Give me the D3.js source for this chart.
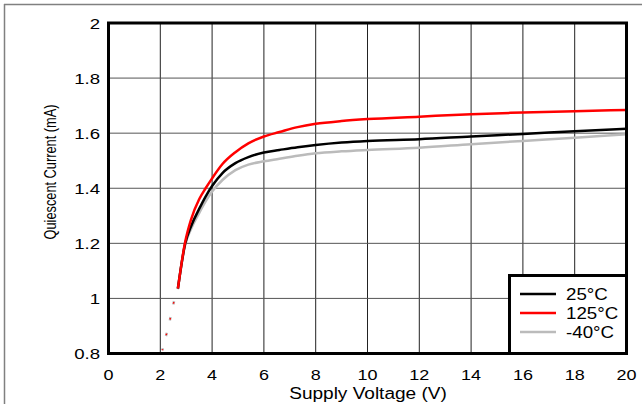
<!DOCTYPE html>
<html>
<head>
<meta charset="utf-8">
<script src="https://cdn.jsdelivr.net/npm/d3@7"></script>
<style>
  body { margin: 0; background: #fff; }
  svg { display: block; font-family: "Liberation Sans", Arial, sans-serif; }
</style>
</head>
<body>
<svg id="chart" width="642" height="404"></svg>
<script>
// x ticks / y ticks
var xTicks = [0, 2, 4, 6, 8, 10, 12, 14, 16, 18, 20];
var yTicks = [0.8, 1, 1.2, 1.4, 1.6, 1.8, 2];

// solid part of the curves
var voltage = [2.68, 2.95, 3.2, 3.5, 3.75, 4, 4.4, 4.9, 5.4, 6, 6.6, 7.3, 8, 9, 10, 12, 14, 16, 18, 20];
var current25 = [1.036, 1.195, 1.265, 1.325, 1.37, 1.408, 1.455, 1.491, 1.513, 1.53, 1.539, 1.549, 1.557, 1.566, 1.572, 1.578, 1.588, 1.597, 1.607, 1.616];
var current125 = [1.036, 1.2, 1.29, 1.36, 1.40, 1.436, 1.488, 1.531, 1.563, 1.588, 1.604, 1.622, 1.634, 1.644, 1.651, 1.66, 1.669, 1.675, 1.68, 1.684];
var currentM40 = [1.036, 1.19, 1.255, 1.31, 1.352, 1.388, 1.43, 1.466, 1.486, 1.498, 1.507, 1.518, 1.527, 1.534, 1.539, 1.547, 1.56, 1.572, 1.583, 1.596];

// dotted start-up part (shared by all temperatures)
var voltageLow = [2.08, 2.23, 2.38, 2.51, 2.68];
var currentLow = [0.812, 0.867, 0.925, 0.982, 1.036];

var seriesNames = ["25°C", "125°C", "-40°C"];
var seriesColors = ["#000000", "#ff0000", "#bbbbbb"];
var seriesValues = [current25, current125, currentM40];

var svg = d3.select("#chart");

var x = d3.scaleLinear().domain([0, 20]).range([108.5, 626.5]);
var y = d3.scaleLinear().domain([0.8, 2]).range([353.5, 23]);

// outer frame lines
svg.append("line").attr("x1", 4).attr("x2", 642).attr("y1", 4.5).attr("y2", 4.5)
  .attr("stroke", "#808080").attr("stroke-width", 1.5);
svg.append("line").attr("x1", 4.5).attr("x2", 4.5).attr("y1", 4).attr("y2", 404)
  .attr("stroke", "#808080").attr("stroke-width", 1.5);

// grid
svg.append("g").selectAll("line").data(xTicks.slice(1, -1)).enter().append("line")
  .attr("x1", function(d) {return x(d);}).attr("x2", function(d) {return x(d);})
  .attr("y1", y(2)).attr("y2", y(0.8))
  .attr("stroke", "#222").attr("stroke-width", 1);
svg.append("g").selectAll("line").data(yTicks.slice(1, -1)).enter().append("line")
  .attr("x1", x(0)).attr("x2", x(20))
  .attr("y1", function(d) {return y(d);}).attr("y2", function(d) {return y(d);})
  .attr("stroke", "#555").attr("stroke-width", 1);

// tick labels (the source picture is stretched sideways, hence scale)
svg.append("g").selectAll("text").data(yTicks).enter().append("text")
  .attr("transform", function(d) {return "translate(100," + y(d) + ") scale(1.2,1)";})
  .attr("dy", "0.36em").attr("text-anchor", "end")
  .attr("font-size", 15.5).text(function(d) {return d3.format("")(d);});
svg.append("g").selectAll("text").data(xTicks).enter().append("text")
  .attr("transform", function(d) {return "translate(" + x(d) + ",380) scale(1.2,1)";})
  .attr("text-anchor", "middle")
  .attr("font-size", 15).text(function(d) {return d;});

// axis titles
svg.append("text").attr("transform", "translate(368,399) scale(1.19,1)")
  .attr("text-anchor", "middle").attr("font-size", 16).text("Supply Voltage (V)");
svg.append("text").attr("transform", "translate(50," + 172 + ") scale(1.25,1) rotate(-90)")
  .attr("dy", "0.35em").attr("text-anchor", "middle").attr("font-size", 12.8)
  .text("Quiescent Current (mA)");

// curves
var line = d3.line()
  .x(function(d) {return x(d[0]);})
  .y(function(d) {return y(d[1]);})
  .curve(d3.curveMonotoneX);

var lowPts = d3.zip(voltageLow, currentLow);
svg.append("path").attr("d", line(lowPts)).attr("fill", "none")
  .attr("stroke", "#bbbbbb").attr("stroke-width", 2.5)
  .attr("stroke-dasharray", "3.5,12.6").attr("stroke-dashoffset", 1.5);
svg.append("path").attr("d", line(lowPts)).attr("fill", "none")
  .attr("stroke", "#ff0000").attr("stroke-width", 1.5)
  .attr("stroke-dasharray", "1.5,14.6").attr("stroke-dashoffset", 0.5);

[2, 0, 1].forEach(function(i) {
  svg.append("path")
    .attr("d", line(d3.zip(voltage, seriesValues[i])))
    .attr("fill", "none")
    .attr("stroke", seriesColors[i])
    .attr("stroke-width", 2.5);
});

// plot frame
svg.append("rect").attr("x", x(0)).attr("y", y(2))
  .attr("width", x(20) - x(0)).attr("height", y(0.8) - y(2))
  .attr("fill", "none").attr("stroke", "#000").attr("stroke-width", 3);

// legend
var legend = svg.append("g");
legend.append("rect").attr("x", 509.5).attr("y", 275.5).attr("width", 117).attr("height", 78)
  .attr("fill", "#fff").attr("stroke", "#000").attr("stroke-width", 3);
var items = legend.selectAll("g.item").data(seriesNames).enter().append("g").attr("class", "item");
items.append("line")
  .attr("x1", 520).attr("x2", 556)
  .attr("y1", function(d, i) {return 294 + i * 19;})
  .attr("y2", function(d, i) {return 294 + i * 19;})
  .attr("stroke", function(d, i) {return seriesColors[i];})
  .attr("stroke-width", 2.5);
items.append("text")
  .attr("transform", function(d, i) {return "translate(566," + (294 + i * 19) + ") scale(1.17,1)";})
  .attr("dy", "0.36em").attr("font-size", 16)
  .text(function(d) {return d;});
</script>
</body>
</html>
